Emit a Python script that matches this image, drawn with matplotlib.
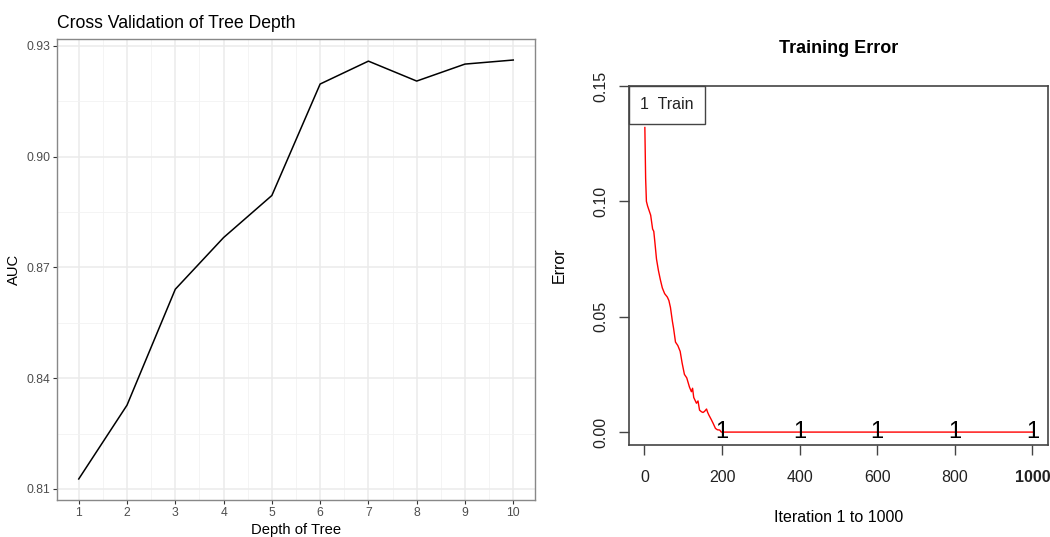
import matplotlib
matplotlib.use('Agg')
import matplotlib.pyplot as plt
from matplotlib.offsetbox import AnchoredText

plt.rcParams['font.family'] = ['Liberation Sans', 'DejaVu Sans']

# left panel: cross validation of tree depth
depth = [1, 2, 3, 4, 5, 6, 7, 8, 9, 10]
auc = [0.8127, 0.8327, 0.8641, 0.8781, 0.8895, 0.9197, 0.9259, 0.9205, 0.9251, 0.9262]
auc_ticks = [0.81, 0.84, 0.87, 0.90, 0.93]

# right panel: training error by iteration
iters = [1, 3, 5, 8, 12, 16, 21, 24, 27, 31, 36, 41, 46, 52, 59, 63, 67, 72, 75, 80,
         86, 92, 97, 103, 109, 116, 121, 124, 127, 134, 138, 142, 147, 151, 155, 160,
         163, 166, 172, 177, 183, 188, 194, 198, 1000]
train_err = [0.132, 0.110, 0.100, 0.098, 0.096, 0.094, 0.088, 0.087, 0.082, 0.075,
             0.070, 0.066, 0.0625, 0.060, 0.0585, 0.057, 0.054, 0.048, 0.045, 0.039,
             0.0375, 0.035, 0.030, 0.025, 0.0235, 0.0195, 0.0175, 0.019, 0.015, 0.0125,
             0.0135, 0.0095, 0.0088, 0.0085, 0.009, 0.010, 0.0085, 0.0074, 0.0055, 0.0038,
             0.0016, 0.0010, 0.0009, 0.0, 0.0]
label_iters = [200, 400, 600, 800, 1000]
label_err = [0.0, 0.0, 0.0, 0.0, 0.0]
iter_ticks = [0, 200, 400, 600, 800, 1000]
err_ticks = [0.00, 0.05, 0.10, 0.15]

fig = plt.figure(figsize=(10.5, 5.37), dpi=100)

# ---- ggplot-like left panel
ax1 = fig.add_axes([0.0543, 0.0689, 0.4552, 0.8585])
ax1.plot(depth, auc, color='black', lw=1.1, zorder=3)
ax1.set_xlim(0.55, 10.45)
ax1.set_ylim(0.807, 0.9319)
ax1.set_xticks(depth)
ax1.set_yticks(auc_ticks)
ax1.set_yticklabels(['%.2f' % v for v in auc_ticks])
ax1.set_xticks([d + 0.5 for d in depth[:-1]], minor=True)
ax1.set_yticks([v + 0.015 for v in auc_ticks[:-1]], minor=True)
ax1.grid(which='major', color='#EBEBEB', lw=1.1)
ax1.grid(which='minor', color='#F2F2F2', lw=0.6)
ax1.set_axisbelow(True)
ax1.tick_params(which='major', length=3, width=0.8, color='#333333',
                labelsize=8.7, labelcolor='#4D4D4D', pad=2)
ax1.tick_params(which='minor', length=0)
for s in ax1.spines.values():
    s.set_color('#888888')
    s.set_linewidth(1.0)
ax1.set_title('Cross Validation of Tree Depth', loc='left', fontsize=12.7, pad=8)
ax1.set_xlabel('Depth of Tree', fontsize=10.6, labelpad=3)
ax1.set_ylabel('AUC', fontsize=10.6, labelpad=4)

# ---- R base-like right panel
ax2 = fig.add_axes([0.599, 0.1713, 0.399, 0.6686])
ax2.plot(iters, train_err, color='red', lw=1.0)
for xi, yi in zip(label_iters, label_err):
    ax2.text(xi, yi, '1', fontsize=17, ha='center', va='center')
ax2.set_xlim(-40, 1040)
ax2.set_ylim(-0.0056, 0.15)
ax2.set_xticks(iter_ticks)
ax2.set_yticks(err_ticks)
ax2.set_yticklabels(['%.2f' % v for v in err_ticks])
ax2.tick_params(axis='both', length=7, width=1.0, color='#444444',
                labelsize=11.5, labelcolor='#222222', pad=8)
ax2.tick_params(axis='x', pad=11)
ax2.tick_params(axis='y', labelrotation=90)
for lbl in ax2.get_yticklabels():
    lbl.set_va('center')
ax2.get_xticklabels()[-1].set_fontweight('bold')
for s in ax2.spines.values():
    s.set_color('#444444')
    s.set_linewidth(1.2)
ax2.set_title('Training Error', fontsize=13, fontweight='bold', pad=24)
ax2.set_xlabel('Iteration 1 to 1000', fontsize=11.5, labelpad=18)
ax2.set_ylabel('Error', fontsize=11.5, labelpad=19)

leg = AnchoredText('1  Train', loc='upper left', pad=0.72, borderpad=0,
                   prop=dict(size=11.5, color='#222222'), frameon=True)
leg.patch.set_edgecolor('#444444')
leg.patch.set_linewidth(1.0)
leg.patch.set_boxstyle('square,pad=0')
ax2.add_artist(leg)

fig.savefig('out.png', dpi=100)
